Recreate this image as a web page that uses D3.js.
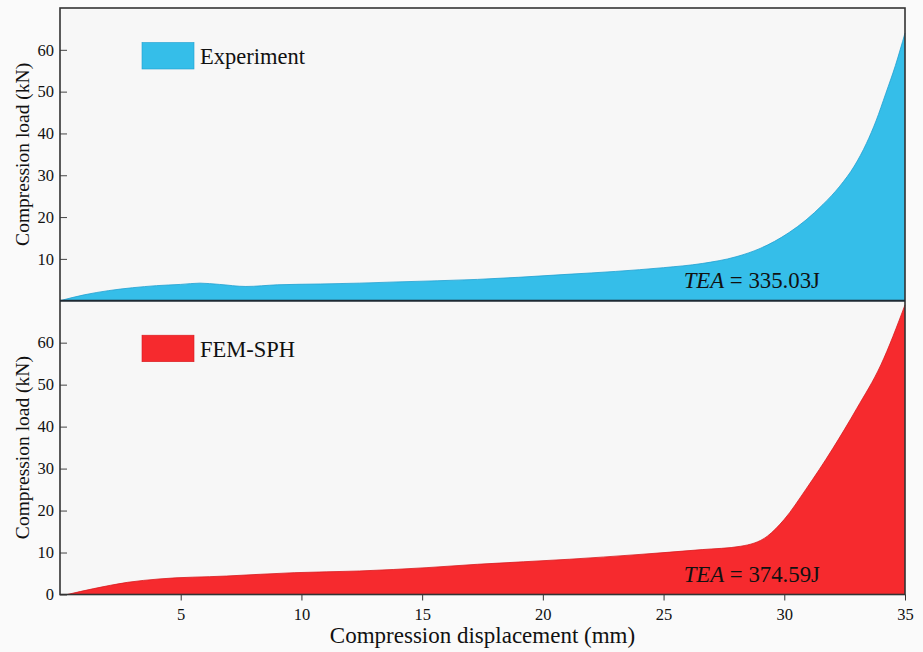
<!DOCTYPE html>
<html>
<head>
<meta charset="utf-8">
<script src="https://cdn.jsdelivr.net/npm/d3@7"></script>
<style>
  body { margin: 0; background: #fafafa; }
  svg { display: block; }
  svg text { font-family: "Liberation Serif", "Times New Roman", serif; fill: #111; }
</style>
</head>
<body>
<div class="chart"></div>
<script>
// displacement (mm) / load (kN)
const dispExp = [0, 1, 2, 3, 4, 5, 5.8, 6.6, 7.7, 9, 10.8, 12.4, 14, 17.3, 19, 21, 23, 25, 26.6, 28, 29, 29.6, 30.2, 30.9, 31.6, 32.3, 32.9, 33.4, 33.8, 34.2, 34.6, 35];
const loadExp = [0, 1.4, 2.4, 3.1, 3.6, 3.9, 4.2, 3.9, 3.4, 3.8, 4.0, 4.2, 4.5, 5.1, 5.6, 6.3, 7.0, 7.9, 8.9, 10.5, 12.5, 14.2, 16.3, 19.3, 23, 27.4, 32.2, 37.6, 43, 49.5, 56.2, 64];

const dispFem = [0.3, 1.4, 2.8, 4.1, 6.9, 9.7, 12.4, 15.2, 17.3, 21.1, 23.9, 26.6, 28.2, 29.3, 30, 30.9, 32, 33, 34, 35];
const loadFem = [0, 1.4, 2.9, 3.7, 4.4, 5.2, 5.6, 6.4, 7.2, 8.4, 9.5, 10.7, 11.5, 13.9, 17.9, 25.1, 34.7, 44.3, 54.7, 69];

const xTicks = [5, 10, 15, 20, 25, 30, 35];
const yTicksTop = [10, 20, 30, 40, 50, 60];
const yTicksBottom = [0, 10, 20, 30, 40, 50, 60];

const panels = [
    { name: 'Experiment', tea: '335.03J', disp: dispExp, load: loadExp, ticks: yTicksTop, fill: '#35bee9', edge: '#1f9fd0' },
    { name: 'FEM-SPH', tea: '374.59J', disp: dispFem, load: loadFem, ticks: yTicksBottom, fill: '#f62a2e', edge: '#d81a1e' }
];

const width = 923, height = 652;
const plotL = 60, plotR = 905, plotT = 8, plotM = 300.7, plotB = 594.5;

const svg = d3.select('.chart').append('svg')
    .attr('width', width)
    .attr('height', height);

svg.append('rect')
    .attr('x', plotL).attr('y', plotT)
    .attr('width', plotR - plotL).attr('height', plotB - plotT)
    .attr('fill', '#f7f7f7');

const x = d3.scaleLinear().domain([0, 35]).range([plotL, plotR]);

panels.forEach((p, i) => {
    const y0 = i === 0 ? plotM : plotB,
        y1 = i === 0 ? plotT : plotM;
    const y = d3.scaleLinear().domain([0, 70]).range([y0, y1]);
    const pts = p.disp.map((d, k) => [d, p.load[k]]);

    const area = d3.area()
        .x(d => x(d[0]))
        .y0(y(0))
        .y1(d => y(d[1]))
        .curve(d3.curveMonotoneX);
    const line = d3.line()
        .x(d => x(d[0]))
        .y(d => y(d[1]))
        .curve(d3.curveMonotoneX);

    svg.append('path').datum(pts)
        .attr('d', area)
        .attr('fill', p.fill);
    svg.append('path').datum(pts)
        .attr('d', line)
        .attr('fill', 'none')
        .attr('stroke', p.edge)
        .attr('stroke-width', 0.8);

    // y axis, ticks inward
    const yAxis = d3.axisLeft(y).tickValues(p.ticks).tickSize(-7).tickPadding(6);
    const ga = svg.append('g')
        .attr('transform', `translate(${plotL},0)`)
        .call(yAxis)
        .attr('font-family', null)
        .attr('font-size', null);
    ga.select('.domain').remove();
    ga.selectAll('line').attr('stroke', '#444');
    ga.selectAll('text').style('font-size', '16.5px');

    svg.append('text')
        .attr('transform', `translate(29,${(y0 + y1) / 2}) rotate(-90)`)
        .attr('text-anchor', 'middle')
        .style('font-size', '19.5px')
        .text('Compression load (kN)');

    // legend
    const ly = y1 + 34.5;
    svg.append('rect')
        .attr('x', 142).attr('y', ly)
        .attr('width', 52).attr('height', 26.5)
        .attr('fill', p.fill)
        .attr('stroke', p.edge)
        .attr('stroke-width', 0.6);
    svg.append('text')
        .attr('x', 200).attr('y', ly + 21.5)
        .style('font-size', '22.5px')
        .text(p.name);

    const tea = svg.append('text')
        .attr('x', 820).attr('y', y0 - 12.5)
        .attr('text-anchor', 'end')
        .style('font-size', '22.8px');
    tea.append('tspan').style('font-style', 'italic').text('TEA');
    tea.append('tspan').text(' = ' + p.tea);
});

// x axis
const gx = svg.append('g')
    .attr('transform', `translate(0,${plotB})`)
    .call(d3.axisBottom(x).tickValues(xTicks).tickSize(6).tickPadding(8))
    .attr('font-family', null)
    .attr('font-size', null);
gx.select('.domain').remove();
gx.selectAll('line').attr('stroke', '#333');
gx.selectAll('text').style('font-size', '16.5px');

svg.append('text')
    .attr('x', (plotL + plotR) / 2)
    .attr('y', 643)
    .attr('text-anchor', 'middle')
    .style('font-size', '23px')
    .text('Compression displacement (mm)');

// frames
svg.append('rect')
    .attr('x', plotL).attr('y', plotT)
    .attr('width', plotR - plotL).attr('height', plotB - plotT)
    .attr('fill', 'none')
    .attr('stroke', '#333')
    .attr('stroke-width', 1.6);
svg.append('line')
    .attr('x1', plotL).attr('x2', plotR)
    .attr('y1', plotM).attr('y2', plotM)
    .attr('stroke', '#1e2a33')
    .attr('stroke-width', 2);
</script>
</body>
</html>
